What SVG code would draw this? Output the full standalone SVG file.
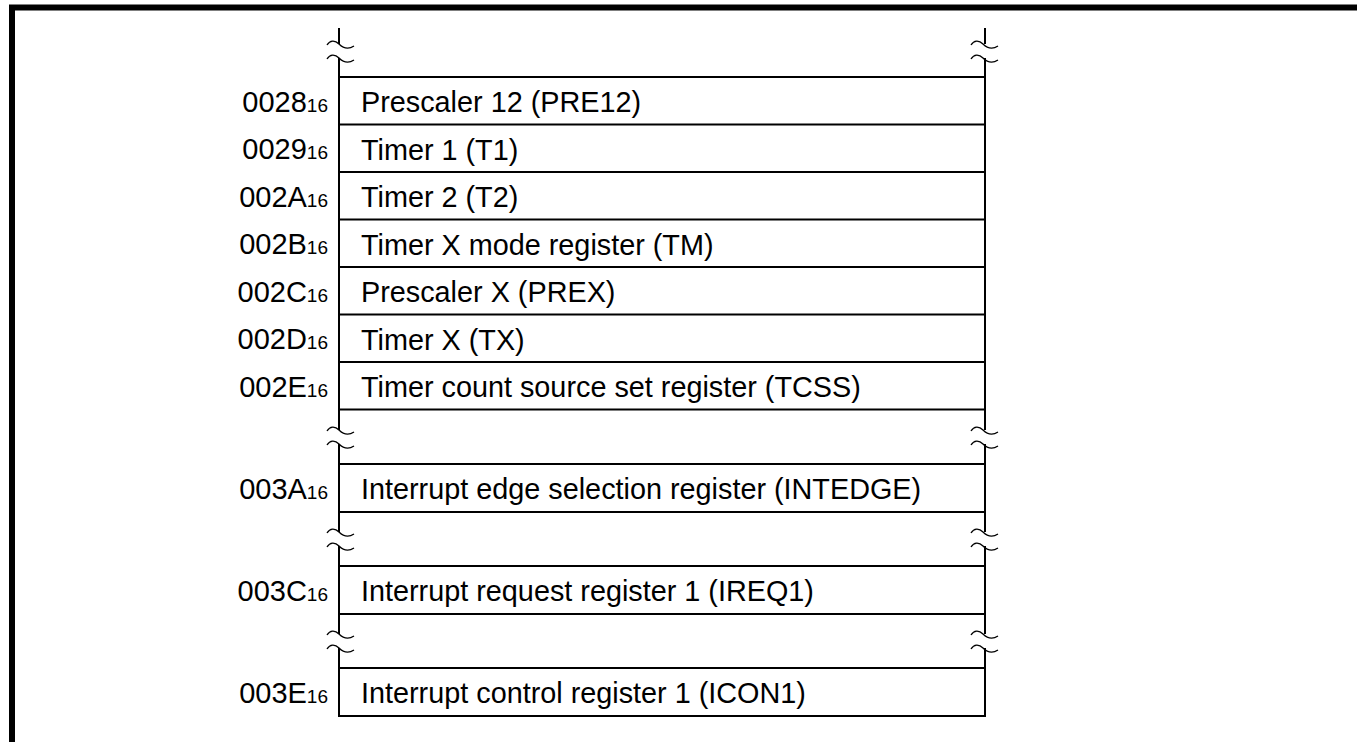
<svg xmlns="http://www.w3.org/2000/svg" width="1357" height="742" viewBox="0 0 1357 742">
  <defs>
    <style>
      .frame { fill: none; stroke: #000; stroke-width: 6; }
      .ln { fill: none; stroke: #000; stroke-width: 2; }
      .wave { fill: none; stroke: #000; stroke-width: 1.3; }
      .t { font-family: "Liberation Sans", Arial, sans-serif; font-size: 28.8px; fill: #000; }
      .a { font-family: "Liberation Sans", Arial, sans-serif; font-size: 29px; fill: #000; text-anchor: end; }
      .sub { font-size: 19px; }
    </style>
    <path id="w" class="wave" d="M-12,1 C-9,-4 -4,-4 0,0 C4,4 9,6 15,2"/>
  </defs>
  <rect width="1357" height="742" fill="#fff"/>
  <path class="frame" d="M12,742 V7.5 H1357"/>

  <g id="connectors">
    <path class="ln" d="M339,28 V44 M339,58 V430 M339,444 V532 M339,546 V634 M339,648 V717"/>
    <path class="ln" d="M985,28 V44 M985,58 V430 M985,444 V532 M985,546 V634 M985,648 V717"/>
    <use href="#w" x="339" y="44"/><use href="#w" x="339" y="58"/>
    <use href="#w" x="339" y="430"/><use href="#w" x="339" y="444"/>
    <use href="#w" x="339" y="532"/><use href="#w" x="339" y="546"/>
    <use href="#w" x="339" y="634"/><use href="#w" x="339" y="648"/>
    <use href="#w" x="983" y="44"/><use href="#w" x="983" y="58"/>
    <use href="#w" x="983" y="430"/><use href="#w" x="983" y="444"/>
    <use href="#w" x="983" y="532"/><use href="#w" x="983" y="546"/>
    <use href="#w" x="983" y="634"/><use href="#w" x="983" y="648"/>
    <path class="ln" d="M339,77 H985 M339,124.5 H985 M339,172 H985 M339,219.5 H985 M339,267 H985 M339,314.5 H985 M339,362 H985 M339,409.5 H985 M339,464 H985 M339,512 H985 M339,566 H985 M339,614 H985 M339,668 H985 M339,716 H985"/>
  </g>

  <g id="r0028"><text class="a" x="328" y="111.5">0028<tspan class="sub">16</tspan></text><text class="t" x="361" y="112">Prescaler 12 (PRE12)</text></g>
  <g id="r0029"><text class="a" x="328" y="159">0029<tspan class="sub">16</tspan></text><text class="t" x="361" y="159.5">Timer 1 (T1)</text></g>
  <g id="r002A"><text class="a" x="328" y="206.5">002A<tspan class="sub">16</tspan></text><text class="t" x="361" y="207">Timer 2 (T2)</text></g>
  <g id="r002B"><text class="a" x="328" y="254">002B<tspan class="sub">16</tspan></text><text class="t" x="361" y="254.5">Timer X mode register (TM)</text></g>
  <g id="r002C"><text class="a" x="328" y="301.5">002C<tspan class="sub">16</tspan></text><text class="t" x="361" y="302">Prescaler X (PREX)</text></g>
  <g id="r002D"><text class="a" x="328" y="349">002D<tspan class="sub">16</tspan></text><text class="t" x="361" y="349.5">Timer X (TX)</text></g>
  <g id="r002E"><text class="a" x="328" y="396.5">002E<tspan class="sub">16</tspan></text><text class="t" x="361" y="397">Timer count source set register (TCSS)</text></g>
  <g id="r003A"><text class="a" x="328" y="498.5">003A<tspan class="sub">16</tspan></text><text class="t" x="361" y="499">Interrupt edge selection register (INTEDGE)</text></g>
  <g id="r003C"><text class="a" x="328" y="600.5">003C<tspan class="sub">16</tspan></text><text class="t" x="361" y="601">Interrupt request register 1 (IREQ1)</text></g>
  <g id="r003E"><text class="a" x="328" y="702.5">003E<tspan class="sub">16</tspan></text><text class="t" x="361" y="703">Interrupt control register 1 (ICON1)</text></g>
</svg>
